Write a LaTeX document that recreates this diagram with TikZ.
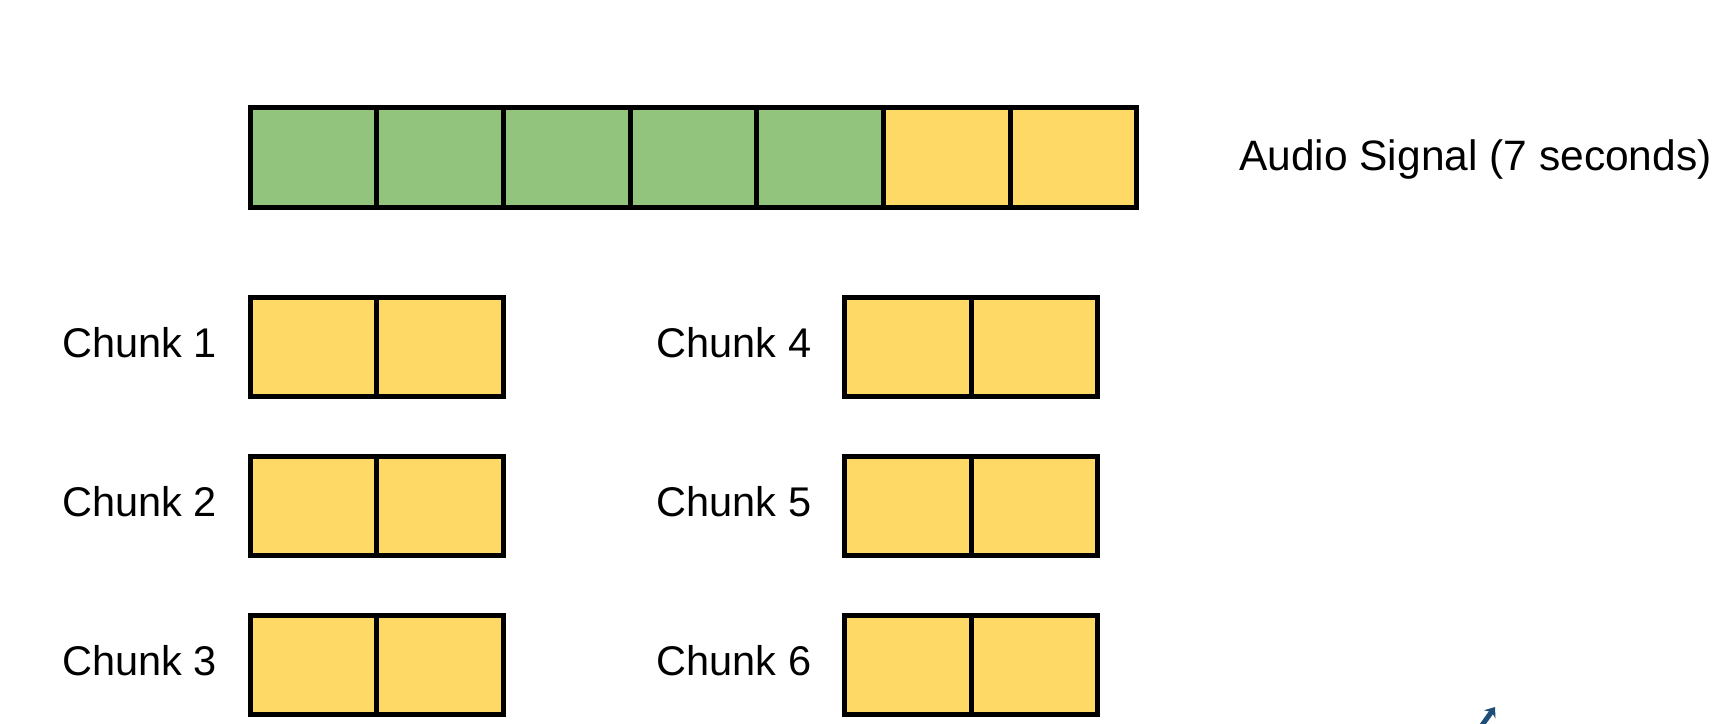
\documentclass[tikz,border=0pt]{standalone}
\usepackage{fontspec}
\setmainfont{Liberation Sans}
\usepackage{xcolor}
\usepackage{tikz}
\usetikzlibrary{positioning,arrows.meta}
\definecolor{slotgreen}{HTML}{93C47D}
\definecolor{slotyellow}{HTML}{FFD966}
\definecolor{penblue}{HTML}{1F4E79}
\tikzset{
    slotcell/.style={draw=black, line width=5pt, outer sep=0pt, inner sep=0pt, minimum width=126.7pt, minimum height=99.5pt},
    greencell/.style={slotcell, fill=slotgreen},
    yellowcell/.style={slotcell, fill=slotyellow},
    signallabel/.style={inner sep=0pt, font=\fontsize{42.5}{50}\selectfont, text=black},
    chunklabel/.style={inner sep=0pt, font=\fontsize{41.5}{50}\selectfont, text=black},
    penarrow/.style={draw=penblue, line width=5pt, -{Stealth[length=9pt, width=14pt]}}
}

\begin{document}
\begin{tikzpicture}[x=1pt, y=-1pt]
    \useasboundingbox (0,0) rectangle (1723,723);

    % audio signal
    \node[greencell] (sig1) at (313.4,157.7) {};
    \node[greencell, right=0pt of sig1] (sig2) {};
    \node[greencell, right=0pt of sig2] (sig3) {};
    \node[greencell, right=0pt of sig3] (sig4) {};
    \node[greencell, right=0pt of sig4] (sig5) {};
    \node[yellowcell, right=0pt of sig5] (sig6) {};
    \node[yellowcell, right=0pt of sig6] (sig7) {};
    \node[signallabel, right=102pt of sig7, yshift=-2pt] (siglabel) {Audio Signal (7 seconds)};

    % chunks, left column
    \node[yellowcell] (chunk1a) at (313.4,347) {};
    \node[yellowcell, right=0pt of chunk1a] (chunk1b) {};
    \node[yellowcell, below=59.5pt of chunk1a] (chunk2a) {};
    \node[yellowcell, right=0pt of chunk2a] (chunk2b) {};
    \node[yellowcell, below=59.5pt of chunk2a] (chunk3a) {};
    \node[yellowcell, right=0pt of chunk3a] (chunk3b) {};

    % chunks, right column
    \node[yellowcell, right=341pt of chunk1b] (chunk4a) {};
    \node[yellowcell, right=0pt of chunk4a] (chunk4b) {};
    \node[yellowcell, below=59.5pt of chunk4a] (chunk5a) {};
    \node[yellowcell, right=0pt of chunk5a] (chunk5b) {};
    \node[yellowcell, below=59.5pt of chunk5a] (chunk6a) {};
    \node[yellowcell, right=0pt of chunk6a] (chunk6b) {};

    \node[chunklabel, left=33pt of chunk1a, yshift=4pt] (label1) {Chunk 1};
    \node[chunklabel, left=33pt of chunk2a, yshift=4pt] (label2) {Chunk 2};
    \node[chunklabel, left=33pt of chunk3a, yshift=4pt] (label3) {Chunk 3};
    \node[chunklabel, left=33pt of chunk4a, yshift=4pt] (label4) {Chunk 4};
    \node[chunklabel, left=33pt of chunk5a, yshift=4pt] (label5) {Chunk 5};
    \node[chunklabel, left=33pt of chunk6a, yshift=4pt] (label6) {Chunk 6};

    % pen pointer, cut off at the bottom edge
    \coordinate (penfoot) at (1480,728);
    \coordinate (pentip) at (1495,707);
    \draw[penarrow] (penfoot) -- (pentip);
\end{tikzpicture}
\end{document}
